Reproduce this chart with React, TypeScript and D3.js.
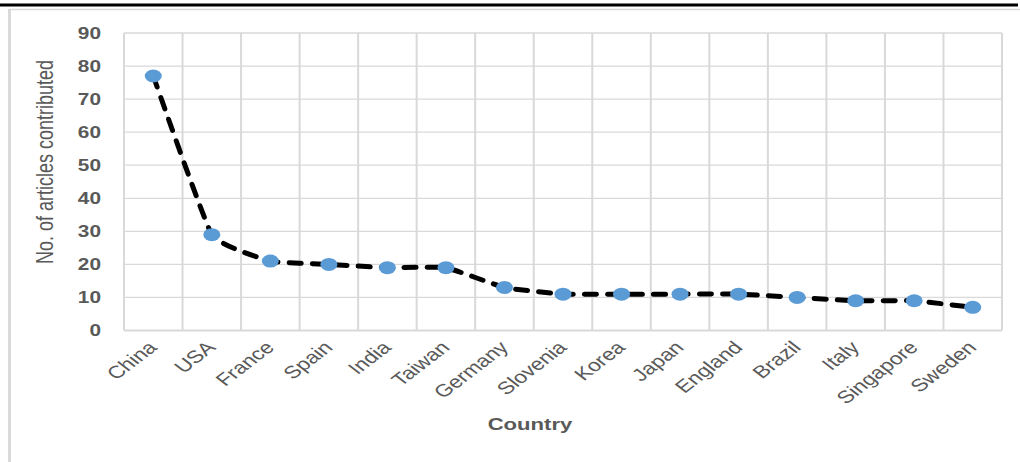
import React from "react";
import * as d3 from "d3";

const countries = ["China", "USA", "France", "Spain", "India", "Taiwan", "Germany", "Slovenia", "Korea", "Japan", "England", "Brazil", "Italy", "Singapore", "Sweden"];
const articles = [77, 29, 21, 20, 19, 19, 13, 11, 11, 11, 11, 10, 9, 9, 7];
const yTicks = [0, 10, 20, 30, 40, 50, 60, 70, 80, 90];

const W = 1020;
const H = 462;
const left = 124;
const right = 1002;
const top = 33;
const bottom = 330.5;
const gray = "#595959";
const grid = "#d9d9d9";
const font = "'Liberation Sans', Arial, sans-serif";
const SX = 1.3;

export default function App() {
  const x = d3.scaleBand<string>().domain(countries).range([left, right]).padding(0);
  const y = d3.scaleLinear().domain([0, 90]).range([bottom, top]);
  const cx = (c: string) => (x(c) as number) + x.bandwidth() / 2;
  const pts: [number, number][] = countries.map((c, i) => [cx(c), y(articles[i])]);
  const line = d3.line().curve(d3.curveCardinal.tension(0.65))(pts) || "";
  const bounds = countries.map((c) => (x(c) as number) + x.bandwidth());

  return (
    <svg width={W} height={H} style={{ position: "absolute", left: 0, top: 0, background: "#fff" }} fontFamily={font}>
      <rect x={0} y={0} width={W} height={H} fill="#fff" />
      <line x1={0} x2={1018} y1={5} y2={5} stroke="#000" strokeWidth={3} />
      <line x1={9} x2={W} y1={9.5} y2={9.5} stroke={grid} strokeWidth={1.5} />
      <line x1={9.5} x2={9.5} y1={9} y2={H} stroke={grid} strokeWidth={3} />

      {yTicks.map((t) => (
        <line key={"h" + t} x1={left} x2={right} y1={y(t)} y2={y(t)} stroke={grid} strokeWidth={t === 0 ? 2 : 1.3} />
      ))}
      <line x1={left} x2={left} y1={top} y2={bottom} stroke={grid} strokeWidth={2} />
      {bounds.map((b, i) => (
        <line key={"v" + i} x1={b} x2={b} y1={top} y2={bottom} stroke={grid} strokeWidth={2} />
      ))}

      {yTicks.map((t) => (
        <text key={"yt" + t} transform={`translate(101,${y(t) + 5.5}) scale(${SX},1)`} textAnchor="end" fontSize={16} fontWeight="bold" fill={gray}>
          {t}
        </text>
      ))}

      {countries.map((c) => (
        <text key={"xl" + c} transform={`translate(${cx(c) + 5},${bottom + 18}) scale(${SX},1) rotate(-45)`} textAnchor="end" fontSize={17.5} fill={gray}>
          {c}
        </text>
      ))}

      <text transform={`translate(53,162) scale(${SX},1) rotate(-90)`} textAnchor="middle" fontSize={18} fill={gray}>
        No. of articles contributed
      </text>
      <text transform={`translate(530,430) scale(${SX},1)`} textAnchor="middle" fontSize={17} fontWeight="bold" fill={gray}>
        Country
      </text>

      <path d={line} fill="none" stroke="#000" strokeWidth={5} strokeDasharray="12 11" strokeLinecap="round" />
      {pts.map((p, i) => (
        <ellipse key={"m" + i} cx={p[0]} cy={p[1]} rx={8.5} ry={6.5} fill="#5b9bd5" />
      ))}
    </svg>
  );
}
